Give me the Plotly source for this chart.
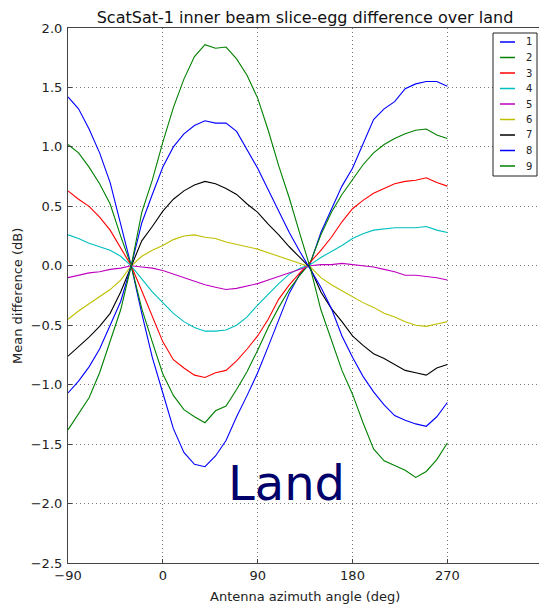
import plotly.graph_objects as go

# Antenna azimuth samples (deg)
azimuth = list(range(-90, 271, 10))

# Mean slice-egg difference (dB) per slice
slice_1 = [1.42, 1.32, 1.15, 0.95, 0.70, 0.36, 0.00,
           -0.40, -0.77, -1.07, -1.37, -1.57, -1.67, -1.69,
           -1.60, -1.47, -1.27, -1.09, -0.90, -0.68, -0.45,
           -0.23, -0.07, 0.02, 0.28, 0.48, 0.67, 0.82,
           1.03, 1.23, 1.32, 1.38, 1.49, 1.53, 1.55, 1.55, 1.51]
slice_2 = [1.02, 0.95, 0.83, 0.69, 0.52, 0.25, 0.00,
           -0.36, -0.64, -0.91, -1.09, -1.21, -1.27, -1.32,
           -1.22, -1.18, -1.04, -0.89, -0.71, -0.52, -0.35,
           -0.20, -0.08, 0.03, 0.26, 0.45, 0.60, 0.73,
           0.85, 0.95, 1.02, 1.07, 1.11, 1.14, 1.15, 1.10, 1.07]
slice_3 = [0.63, 0.56, 0.50, 0.41, 0.30, 0.15, 0.00,
           -0.21, -0.42, -0.64, -0.79, -0.86, -0.92, -0.94,
           -0.90, -0.88, -0.80, -0.70, -0.59, -0.45, -0.28,
           -0.16, -0.06, 0.03, 0.13, 0.24, 0.37, 0.48,
           0.55, 0.61, 0.65, 0.69, 0.71, 0.72, 0.74, 0.70, 0.67]
slice_4 = [0.26, 0.23, 0.19, 0.16, 0.13, 0.08, 0.00,
           -0.11, -0.22, -0.31, -0.40, -0.47, -0.52, -0.55,
           -0.55, -0.54, -0.50, -0.43, -0.33, -0.24, -0.15,
           -0.07, -0.02, 0.01, 0.07, 0.12, 0.17, 0.23,
           0.27, 0.30, 0.31, 0.32, 0.32, 0.32, 0.33, 0.30, 0.28]
slice_5 = [-0.10, -0.08, -0.06, -0.05, -0.03, -0.02, 0.00,
           -0.01, -0.02, -0.04, -0.07, -0.10, -0.13, -0.16,
           -0.18, -0.20, -0.19, -0.17, -0.15, -0.12, -0.09,
           -0.06, -0.03, 0.00, 0.01, 0.01, 0.02, 0.01,
           0.00, -0.01, -0.03, -0.05, -0.08, -0.08, -0.09, -0.10, -0.12]
slice_6 = [-0.45, -0.38, -0.32, -0.26, -0.20, -0.12, 0.00,
           0.08, 0.13, 0.17, 0.22, 0.25, 0.26, 0.24,
           0.23, 0.20, 0.18, 0.16, 0.14, 0.11, 0.08,
           0.05, 0.02, -0.01, -0.10, -0.16, -0.21, -0.26,
           -0.31, -0.35, -0.40, -0.43, -0.47, -0.50, -0.51, -0.49, -0.47]
slice_7 = [-0.76, -0.68, -0.60, -0.51, -0.40, -0.22, 0.00,
           0.21, 0.33, 0.46, 0.56, 0.63, 0.68, 0.71,
           0.69, 0.65, 0.60, 0.52, 0.45, 0.35, 0.26,
           0.16, 0.07, -0.02, -0.22, -0.36, -0.47, -0.59,
           -0.67, -0.74, -0.78, -0.83, -0.88, -0.90, -0.92, -0.86, -0.83]
slice_8 = [-1.07, -0.97, -0.85, -0.70, -0.50, -0.30, 0.00,
           0.36, 0.60, 0.83, 1.00, 1.11, 1.18, 1.22,
           1.20, 1.20, 1.13, 0.98, 0.82, 0.64, 0.46,
           0.28, 0.12, -0.03, -0.18, -0.36, -0.59, -0.77,
           -0.93, -1.06, -1.17, -1.26, -1.30, -1.33, -1.35, -1.27, -1.15]
slice_9 = [-1.38, -1.25, -1.11, -0.90, -0.64, -0.37, 0.00,
           0.45, 0.72, 1.04, 1.33, 1.57, 1.76, 1.86,
           1.83, 1.84, 1.74, 1.60, 1.41, 1.14, 0.84,
           0.57, 0.27, -0.02, -0.37, -0.63, -0.88, -1.08,
           -1.32, -1.54, -1.64, -1.68, -1.72, -1.78, -1.73, -1.63, -1.49]

slices = [slice_1, slice_2, slice_3, slice_4, slice_5,
          slice_6, slice_7, slice_8, slice_9]
slice_names = ["1", "2", "3", "4", "5", "6", "7", "8", "9"]
colors = ["#0000ff", "#008000", "#ff0000", "#00bfbf", "#bf00bf",
          "#bfbf00", "#000000", "#0000ff", "#008000"]

y_ticks = [-2.5, -2.0, -1.5, -1.0, -0.5, 0.0, 0.5, 1.0, 1.5, 2.0]
x_ticks = [-90, 0, 90, 180, 270]

W, H = 539, 605
L, R, T, B = 68, 0, 28, 42
FONT = "DejaVu Sans"


def px_x(px):
    return (px - L) / (W - L - R)


def px_y(py):
    return 1 - (py - T) / (H - T - B)


fig = go.Figure()
for name, vals, col in zip(slice_names, slices, colors):
    fig.add_trace(go.Scatter(x=azimuth, y=vals, mode="lines", name=name,
                             line=dict(color=col, width=1.1), showlegend=False))

axis_common = dict(
    showline=True, linecolor="#444", linewidth=1.2,
    showgrid=True, gridcolor="#777", gridwidth=1, griddash="1px,3px",
    zeroline=False, ticks="inside", ticklen=4, tickcolor="#444",
    tickfont=dict(family=FONT, size=13, color="#222"),
)

fig.update_layout(
    width=W, height=H,
    margin=dict(l=L, r=R, t=T, b=B, pad=0),
    paper_bgcolor="white", plot_bgcolor="white",
    font=dict(family=FONT, color="#222"),
    title=dict(text="ScatSat-1 inner beam slice-egg difference over land",
               font=dict(family=FONT, size=16, color="#111"),
               x=305 / W, xref="container", xanchor="center",
               y=1 - 17 / H, yref="container", yanchor="middle"),
    xaxis=dict(range=[-90, 357], tickvals=x_ticks, mirror=True, **axis_common),
    yaxis=dict(range=[-2.5, 2.0], tickvals=y_ticks, tickformat=".1f",
               ticklabelstandoff=2, **axis_common),
)

annotations = [
    dict(text="Antenna azimuth angle (deg)", xref="paper", yref="paper",
         x=px_x(305), y=px_y(596), xanchor="center", yanchor="middle",
         showarrow=False, font=dict(family=FONT, size=13, color="#222")),
    dict(text="Mean difference (dB)", xref="paper", yref="paper",
         x=px_x(17), y=px_y(296), xanchor="center", yanchor="middle",
         textangle=-90, showarrow=False,
         font=dict(family=FONT, size=13, color="#222")),
    dict(text="Land", xref="x", yref="y", x=117, y=-1.83,
         xanchor="center", yanchor="middle", showarrow=False,
         font=dict(family=FONT, size=48, color="#00006b")),
]

# Legend panel
shapes = [dict(type="rect", xref="paper", yref="paper",
               x0=px_x(493), x1=px_x(537), y0=px_y(176), y1=px_y(33),
               line=dict(color="#222", width=1), fillcolor="white", layer="above")]
for i, (name, col) in enumerate(zip(slice_names, colors)):
    yc = 42 + 15.5 * i
    shapes.append(dict(type="line", xref="paper", yref="paper",
                       x0=px_x(500), x1=px_x(515), y0=px_y(yc), y1=px_y(yc),
                       line=dict(color=col, width=1.5)))
    annotations.append(dict(text=name, xref="paper", yref="paper",
                            x=px_x(524), y=px_y(yc), xanchor="left", yanchor="middle",
                            showarrow=False,
                            font=dict(family=FONT, size=10, color="#222")))

fig.update_layout(shapes=shapes, annotations=annotations)
fig.write_html("out.html")
